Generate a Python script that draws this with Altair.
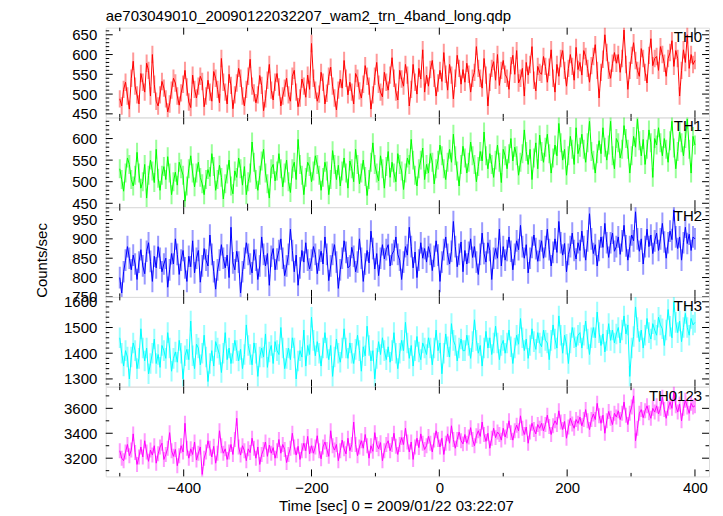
import altair as alt
import pandas as pd

TITLE = "ae703049010_20090122032207_wam2_trn_4band_long.qdp"
X_TITLE = "Time [sec] 0 = 2009/01/22 03:22:07"
Y_TITLE = "Counts/sec"
T_START, T_END = -500, 400
X_DOMAIN = [-522, 422]
X_LABELS = [-400, -200, 0, 200, 400]
X_MINOR = [-500, -300, -100, 100, 300]

TH0 = [
    488, 470, 512, 530, 495, 462, 540, 583, 520, 498, 475, 552, 530, 505, 578, 560, 495, 600, 525, 482,
    470, 498, 532, 515, 488, 455, 475, 510, 540, 528, 495, 472, 503, 525, 560, 518, 480, 466, 548, 512,
    490, 520, 545, 532, 468, 495, 535, 505, 482, 557, 540, 512, 478, 590, 530, 505, 475, 550, 522, 463,
    498, 528, 565, 540, 495, 470, 512, 545, 588, 520, 503, 478, 498, 547, 522, 458, 488, 535, 575, 510,
    485, 530, 552, 518, 470, 495, 515, 540, 498, 482, 545, 560, 505, 468, 490, 538, 520, 492, 548, 512,
    628, 540, 510, 482, 500, 555, 530, 475, 502, 545, 568, 520, 490, 460, 510, 538, 515, 585, 540, 498,
    530, 505, 475, 552, 540, 508, 490, 525, 572, 545, 520, 462, 498, 545, 580, 525, 505, 493, 555, 530,
    510, 548, 592, 540, 505, 485, 560, 538, 520, 575, 548, 470, 512, 575, 530, 500, 565, 538, 612, 505,
    548, 520, 562, 585, 540, 495, 528, 560, 532, 605, 550, 510, 575, 548, 488, 540, 598, 565, 525, 562,
    530, 578, 550, 505, 540, 555, 620, 565, 540, 515, 590, 548, 470, 530, 565, 582, 535, 600, 522, 560,
    585, 550, 540, 512, 572, 598, 550, 610, 528, 540, 565, 495, 580, 548, 575, 620, 535, 508, 570, 555,
    550, 595, 570, 530, 568, 612, 540, 505, 575, 545, 590, 610, 560, 520, 565, 600, 570, 535, 618, 562,
    580, 548, 610, 595, 565, 530, 572, 595, 625, 560, 490, 555, 588, 650, 605, 560, 540, 578, 605, 578,
    600, 555, 590, 662, 575, 512, 560, 598, 630, 585, 560, 545, 615, 590, 555, 528, 598, 640, 572, 590,
    595, 560, 620, 600, 578, 545, 590, 605, 635, 570, 610, 590, 495, 560, 612, 580, 650, 565, 600, 575,
    585,
]

TH1 = [
    530, 505, 478, 520, 555, 540, 505, 490, 515, 568, 520, 485, 500, 540, 462, 515, 550, 525, 498, 575,
    508, 480, 515, 535, 505, 558, 520, 470, 500, 522, 492, 545, 530, 515, 455, 490, 530, 560, 520, 488,
    520, 545, 510, 495, 470, 505, 528, 512, 565, 535, 480, 505, 538, 510, 460, 495, 518, 550, 490, 472,
    525, 510, 555, 530, 492, 535, 470, 500, 520, 592, 545, 505, 480, 515, 548, 575, 520, 495, 462, 530,
    540, 502, 525, 565, 530, 488, 520, 550, 500, 475, 530, 545, 505, 598, 540, 515, 470, 510, 545, 535,
    500, 525, 560, 540, 515, 480, 510, 545, 525, 470, 505, 572, 540, 505, 538, 490, 525, 555, 520, 485,
    548, 530, 500, 575, 540, 495, 520, 550, 512, 468, 505, 545, 590, 540, 520, 502, 560, 530, 485, 535,
    570, 510, 545, 520, 500, 565, 540, 525, 482, 520, 555, 540, 598, 550, 515, 490, 530, 550, 578, 505,
    540, 520, 565, 545, 495, 530, 550, 585, 560, 530, 505, 545, 575, 545, 610, 560, 525, 490, 540, 582,
    555, 520, 545, 592, 560, 540, 500, 535, 570, 548, 615, 560, 530, 565, 540, 510, 550, 585, 545, 498,
    575, 560, 530, 565, 600, 548, 580, 560, 515, 545, 565, 620, 570, 540, 575, 505, 555, 590, 530, 608,
    570, 545, 580, 610, 565, 520, 555, 585, 560, 635, 590, 550, 575, 515, 560, 605, 575, 540, 625, 565,
    580, 610, 575, 545, 590, 640, 570, 550, 520, 565, 595, 565, 625, 580, 550, 585, 640, 560, 530, 600,
    590, 555, 575, 630, 600, 575, 520, 560, 605, 580, 645, 595, 560, 598, 540, 575, 620, 590, 510, 600,
    585, 625, 590, 560, 600, 575, 545, 595, 640, 578, 530, 570, 615, 590, 560, 600, 645, 575, 520, 605,
    585,
]

TH2 = [
    800, 760, 815, 845, 880, 850, 820, 858, 835, 795, 840, 872, 830, 810, 868, 890, 842, 790, 855, 825,
    880, 850, 815, 835, 850, 775, 820, 862, 835, 900, 860, 808, 845, 870, 825, 790, 855, 828, 895, 812,
    850, 870, 788, 830, 875, 845, 830, 910, 860, 815, 770, 820, 845, 885, 850, 825, 858, 800, 930, 838,
    820, 868, 840, 760, 815, 850, 890, 860, 835, 812, 872, 845, 795, 830, 905, 860, 830, 862, 780, 855,
    875, 820, 848, 870, 900, 850, 805, 830, 860, 925, 870, 815, 858, 780, 825, 870, 840, 890, 845, 822,
    845, 880, 860, 810, 845, 868, 835, 905, 860, 792, 830, 860, 885, 840, 772, 820, 850, 895, 865, 825,
    830, 878, 855, 815, 840, 900, 850, 790, 835, 870, 838, 920, 875, 822, 862, 805, 850, 885, 848, 872,
    885, 830, 860, 870, 905, 860, 845, 795, 840, 880, 858, 930, 880, 825, 866, 800, 845, 890, 850, 875,
    840, 880, 860, 818, 855, 895, 858, 790, 840, 872, 905, 860, 835, 868, 945, 880, 828, 860, 892, 815,
    870, 835, 865, 900, 852, 880, 840, 808, 860, 915, 862, 840, 890, 870, 795, 850, 875, 850, 925, 830,
    880, 845, 870, 905, 868, 820, 860, 895, 872, 935, 880, 850, 885, 812, 850, 878, 910, 875, 842, 870,
    895, 850, 880, 925, 872, 830, 865, 900, 865, 945, 890, 858, 888, 815, 860, 880, 915, 870, 848, 890,
    870, 920, 880, 845, 895, 965, 900, 862, 885, 830, 870, 905, 878, 940, 890, 852, 890, 915, 868, 880,
    905, 860, 895, 935, 882, 845, 880, 910, 895, 970, 900, 868, 900, 835, 880, 925, 880, 910, 862, 895,
    915, 870, 900, 940, 892, 850, 890, 920, 898, 975, 905, 875, 905, 845, 890, 930, 888, 912, 870, 905,
    900,
]

TH3 = [
    1460, 1400, 1350, 1410, 1385, 1300, 1385, 1440, 1410, 1340, 1380, 1495, 1420, 1370, 1420, 1320, 1360, 1400, 1455, 1360,
    1395, 1345, 1430, 1410, 1380, 1480, 1420, 1330, 1380, 1405, 1365, 1450, 1400, 1300, 1390, 1415, 1375, 1525, 1390, 1340,
    1435, 1420, 1355, 1400, 1470, 1385, 1290, 1360, 1410, 1350, 1445, 1420, 1395, 1325, 1400, 1480, 1375, 1420, 1360, 1400,
    1450, 1410, 1370, 1415, 1340, 1395, 1510, 1430, 1395, 1355, 1440, 1400, 1310, 1385, 1420, 1385, 1475, 1345, 1405, 1430,
    1360, 1445, 1410, 1395, 1500, 1420, 1340, 1380, 1420, 1375, 1460, 1420, 1300, 1370, 1410, 1385, 1490, 1350, 1430, 1395,
    1540, 1450, 1390, 1445, 1400, 1350, 1420, 1480, 1420, 1375, 1430, 1310, 1385, 1455, 1400, 1365, 1420, 1495, 1420, 1380,
    1440, 1400, 1360, 1415, 1470, 1410, 1330, 1425, 1390, 1505, 1430, 1370, 1410, 1300, 1380, 1445, 1395, 1460, 1410, 1375,
    1425, 1365, 1410, 1480, 1400, 1340, 1400, 1450, 1410, 1520, 1440, 1380, 1430, 1350, 1410, 1465, 1405, 1375, 1440, 1420,
    1395, 1460, 1420, 1355, 1420, 1490, 1410, 1440, 1320, 1400, 1475, 1425, 1385, 1515, 1450, 1430, 1370, 1420, 1455, 1410,
    1410, 1470, 1430, 1380, 1445, 1530, 1450, 1400, 1430, 1350, 1420, 1485, 1420, 1460, 1395, 1440, 1505, 1440, 1375, 1430,
    1450, 1400, 1440, 1490, 1425, 1360, 1420, 1470, 1435, 1535, 1460, 1410, 1455, 1380, 1430, 1495, 1445, 1415, 1480, 1440,
    1425, 1490, 1450, 1440, 1375, 1450, 1510, 1455, 1420, 1545, 1470, 1400, 1470, 1435, 1360, 1440, 1500, 1460, 1425, 1470,
    1480, 1420, 1470, 1525, 1455, 1395, 1460, 1500, 1460, 1560, 1480, 1430, 1475, 1405, 1450, 1515, 1450, 1490, 1440, 1475,
    1500, 1440, 1490, 1545, 1475, 1510, 1310, 1420, 1465, 1580, 1500, 1445, 1490, 1420, 1470, 1535, 1480, 1455, 1515, 1490,
    1470, 1540, 1510, 1495, 1430, 1490, 1570, 1505, 1460, 1600, 1520, 1480, 1525, 1445, 1500, 1555, 1500, 1470, 1535, 1510,
    1520,
]

TH0123 = [
    3260, 3200, 3180, 3250, 3310, 3220, 3265, 3395, 3245, 3150, 3210, 3290, 3210, 3340, 3250, 3175, 3265, 3225, 3300, 3160,
    3235, 3290, 3320, 3190, 3230, 3280, 3405, 3260, 3215, 3270, 3140, 3220, 3300, 3250, 3480, 3280, 3200, 3275, 3230, 3330,
    3185, 3240, 3290, 3070, 3200, 3250, 3340, 3280, 3210, 3295, 3160, 3240, 3420, 3300, 3240, 3275, 3190, 3250, 3310, 3230,
    3350, 3520, 3290, 3225, 3300, 3260, 3180, 3275, 3245, 3360, 3280, 3200, 3290, 3150, 3230, 3270, 3330, 3215, 3305, 3240,
    3285, 3200, 3260, 3350, 3240, 3310, 3270, 3165, 3230, 3280, 3400, 3290, 3225, 3295, 3190, 3260, 3320, 3260, 3375, 3235,
    3300, 3240, 3290, 3380, 3260, 3195, 3290, 3330, 3270, 3215, 3420, 3300, 3265, 3310, 3180, 3260, 3345, 3275, 3235, 3360,
    3260, 3310, 3490, 3310, 3220, 3290, 3340, 3280, 3390, 3300, 3200, 3300, 3255, 3405, 3310, 3275, 3325, 3180, 3260, 3310,
    3340, 3260, 3310, 3400, 3295, 3230, 3310, 3365, 3310, 3440, 3330, 3250, 3330, 3190, 3290, 3360, 3285, 3395, 3320, 3270,
    3300, 3375, 3320, 3250, 3345, 3420, 3350, 3290, 3360, 3230, 3320, 3395, 3320, 3460, 3350, 3280, 3350, 3410, 3340, 3315,
    3390, 3320, 3370, 3445, 3350, 3300, 3380, 3420, 3375, 3490, 3390, 3335, 3400, 3280, 3360, 3440, 3365, 3410, 3390, 3345,
    3440, 3370, 3420, 3500, 3405, 3345, 3420, 3465, 3420, 3540, 3440, 3390, 3450, 3320, 3410, 3480, 3430, 3395, 3470, 3440,
    3480, 3420, 3470, 3545, 3455, 3390, 3460, 3500, 3470, 3580, 3490, 3430, 3495, 3360, 3450, 3520, 3475, 3440, 3510, 3480,
    3530, 3460, 3510, 3590, 3500, 3430, 3510, 3555, 3510, 3640, 3540, 3480, 3545, 3400, 3500, 3575, 3520, 3470, 3560, 3530,
    3580, 3510, 3560, 3650, 3545, 3470, 3560, 3610, 3700, 3340, 3440, 3560, 3590, 3525, 3580, 3620, 3565, 3520, 3600, 3570,
    3620, 3555, 3600, 3690, 3590, 3520, 3600, 3650, 3600, 3730, 3620, 3570, 3635, 3500, 3600, 3665, 3610, 3560, 3640, 3610,
    3620,
]

NAMES = ["TH0", "TH1", "TH2", "TH3", "TH0123"]
SERIES = [TH0, TH1, TH2, TH3, TH0123]
COLORS = ["#ff0000", "#00ff00", "#0000ff", "#00ffff", "#ff00ff"]
ERRORS = [22, 22, 28, 40, 60]
Y_DOMAINS = [[441, 668], [441, 649], [750, 982], [1270, 1619], [3054, 3774]]
Y_LABELS = [
    [450, 500, 550, 600, 650],
    [450, 500, 550, 600],
    [750, 800, 850, 900, 950],
    [1300, 1400, 1500, 1600],
    [3200, 3400, 3600],
]
Y_MINOR_STEP = [10, 10, 10, 20, 100]

W, H = 605, 90
FONT = "Liberation Sans"
MAJ, MIN = 7, 3.5


def minor_ticks(dom, step, majors):
    start = (int(dom[0]) // step + 1) * step
    vals = list(range(start, int(dom[1]) + 1, step))
    return [v for v in vals if v not in majors]


def panel(i):
    vals = SERIES[i]
    n = len(vals)
    ts = [T_START + k * (T_END - T_START) / (n - 1) for k in range(n)]
    err = ERRORS[i]
    df = pd.DataFrame({"t": ts, "v": vals})
    df["lo"] = df["v"] - err
    df["hi"] = df["v"] + err
    xs = alt.Scale(domain=X_DOMAIN, nice=False, zero=False)
    ys = alt.Scale(domain=Y_DOMAINS[i], nice=False, zero=False)
    last = i == len(SERIES) - 1
    if last:
        xaxis = alt.Axis(values=X_LABELS, ticks=False, domain=False, grid=False,
                         format="d", labelFont=FONT, labelFontSize=15,
                         labelColor="black", labelPadding=4, labelFlush=False,
                         labelOverlap=False, title=X_TITLE, titleFont=FONT,
                         titleFontSize=15, titleFontWeight="normal",
                         titleColor="black", titlePadding=3, titleX=291)
    else:
        xaxis = None
    if i == 2:
        yaxis = alt.Axis(values=Y_LABELS[i], ticks=False, domain=False, grid=False,
                         format="d", labelFont=FONT, labelFontSize=15,
                         labelColor="black", labelPadding=9, labelOverlap=False,
                         labelFlush=False, title=Y_TITLE,
                         titleFont=FONT, titleFontSize=15, titleFontWeight="normal",
                         titleColor="black", titlePadding=22, titleY=53)
    else:
        yaxis = alt.Axis(values=Y_LABELS[i], ticks=False, domain=False, grid=False,
                         format="d", labelFont=FONT, labelFontSize=15,
                         labelColor="black", labelPadding=9, labelOverlap=False,
                         labelFlush=False, title=None)

    def X(f):
        return alt.X(f, scale=xs, axis=xaxis)

    def Y(f):
        return alt.Y(f, scale=ys, axis=yaxis)

    base = alt.Chart(df)
    errs = base.mark_rule(color=COLORS[i], opacity=0.4, strokeWidth=2, clip=True).encode(
        x=X("t:Q"), y=Y("lo:Q"), y2="hi:Q",
    )
    line = base.mark_line(color=COLORS[i], strokeWidth=1, clip=True).encode(
        x=X("t:Q"), y=Y("v:Q"),
    )
    label = alt.Chart(pd.DataFrame({"name": [NAMES[i]]})).mark_text(
        align="right", baseline="middle", font=FONT, fontSize=15, color="black"
    ).encode(text="name:N", x=alt.value(W - 7), y=alt.value(9))

    layers = [errs, line, label]
    ymaj = pd.DataFrame({"v": Y_LABELS[i]})
    ymin = pd.DataFrame({"v": minor_ticks(Y_DOMAINS[i], Y_MINOR_STEP[i], Y_LABELS[i])})
    for d, ln in ((ymaj, MAJ), (ymin, MIN)):
        for x0, x1 in ((0, ln), (W, W - ln)):
            layers.append(alt.Chart(d).mark_rule(color="black", strokeWidth=1).encode(
                y=Y("v:Q"), x=alt.value(x0), x2=alt.value(x1)))
    xmaj = pd.DataFrame({"v": X_LABELS})
    xmin = pd.DataFrame({"v": X_MINOR})
    for d, ln in ((xmaj, MAJ), (xmin, MIN)):
        for y0, y1 in ((0, ln), (H, H - ln)):
            layers.append(alt.Chart(d).mark_rule(color="black", strokeWidth=1).encode(
                x=X("v:Q"), y=alt.value(y0), y2=alt.value(y1)))

    ch = alt.layer(*layers).properties(width=W, height=H)
    if i == 0:
        ch = ch.properties(title=alt.TitleParams(
            text=TITLE, anchor="start", frame="group", font=FONT, fontSize=15,
            fontWeight="normal", color="black", offset=3))
    return ch


chart = alt.vconcat(*[panel(i) for i in range(len(SERIES))], spacing=0,
                    bounds="flush").properties(
    padding={"left": 26, "top": 0, "right": 5, "bottom": 0}
).configure_view(stroke="#222", strokeWidth=1.5).configure(background="white")

chart.save("out.html", embed_options={"renderer": "svg", "actions": False})
